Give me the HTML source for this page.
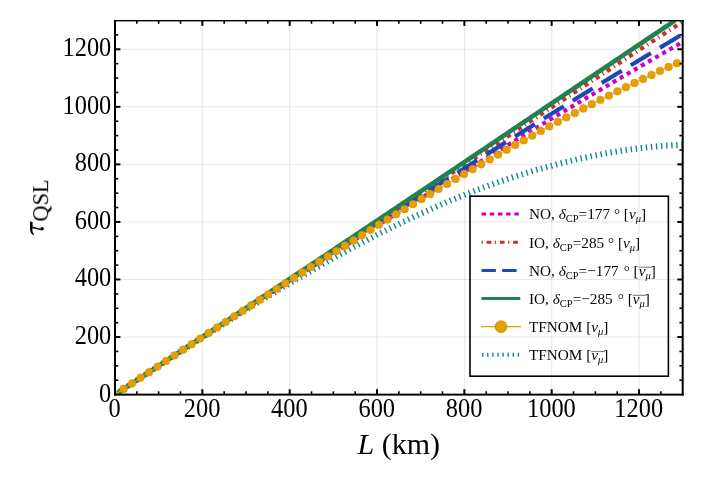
<!DOCTYPE html>
<html><head><meta charset="utf-8"><title>plot</title>
<style>
html,body{margin:0;padding:0;background:#fff;}
svg{display:block;}
text{font-family:"Liberation Serif",serif;fill:#000;}
#txt{opacity:0.999;}
</style></head><body>
<svg width="704" height="482" viewBox="0 0 704 482">
<rect x="0" y="0" width="704" height="482" fill="#fff"/>
<defs><clipPath id="cp"><rect x="115.00" y="20.00" width="567.70" height="374.60"/></clipPath></defs>

<g stroke="#000" stroke-opacity="0.095" stroke-width="1" fill="none"><line x1="202.34" y1="394.60" x2="202.34" y2="20.50"/><line x1="115.00" y1="337.05" x2="682.70" y2="337.05"/><line x1="289.68" y1="394.60" x2="289.68" y2="20.50"/><line x1="115.00" y1="279.49" x2="682.70" y2="279.49"/><line x1="377.02" y1="394.60" x2="377.02" y2="20.50"/><line x1="115.00" y1="221.94" x2="682.70" y2="221.94"/><line x1="464.35" y1="394.60" x2="464.35" y2="20.50"/><line x1="115.00" y1="164.38" x2="682.70" y2="164.38"/><line x1="551.69" y1="394.60" x2="551.69" y2="20.50"/><line x1="115.00" y1="106.83" x2="682.70" y2="106.83"/><line x1="639.03" y1="394.60" x2="639.03" y2="20.50"/><line x1="115.00" y1="49.28" x2="682.70" y2="49.28"/></g>
<g clip-path="url(#cp)" fill="none">
<path d="M115.00,394.60 L117.18,393.16 L119.37,391.72 L121.55,390.28 L123.73,388.85 L125.92,387.41 L128.10,385.97 L130.28,384.54 L132.47,383.10 L134.65,381.66 L136.83,380.23 L139.02,378.79 L141.20,377.36 L143.38,375.93 L145.57,374.49 L147.75,373.06 L149.94,371.63 L152.12,370.19 L154.30,368.76 L156.49,367.33 L158.67,365.90 L160.85,364.47 L163.04,363.04 L165.22,361.61 L167.40,360.18 L169.59,358.75 L171.77,357.32 L173.95,355.90 L176.14,354.47 L178.32,353.04 L180.50,351.62 L182.69,350.19 L184.87,348.77 L187.05,347.34 L189.24,345.92 L191.42,344.50 L193.60,343.07 L195.79,341.65 L197.97,340.23 L200.16,338.81 L202.34,337.39 L204.52,335.97 L206.71,334.55 L208.89,333.13 L211.07,331.71 L213.26,330.29 L215.44,328.88 L217.62,327.46 L219.81,326.04 L221.99,324.63 L224.17,323.21 L226.36,321.80 L228.54,320.39 L230.72,318.97 L232.91,317.56 L235.09,316.15 L237.27,314.74 L239.46,313.33 L241.64,311.92 L243.82,310.51 L246.01,309.10 L248.19,307.69 L250.37,306.28 L252.56,304.88 L254.74,303.47 L256.93,302.07 L259.11,300.66 L261.29,299.26 L263.48,297.85 L265.66,296.45 L267.84,295.04 L270.03,293.64 L272.21,292.24 L274.39,290.84 L276.58,289.44 L278.76,288.04 L280.94,286.64 L283.13,285.24 L285.31,283.84 L287.49,282.45 L289.68,281.05 L291.86,279.65 L294.04,278.26 L296.23,276.87 L298.41,275.48 L300.59,274.08 L302.78,272.69 L304.96,271.30 L307.14,269.91 L309.33,268.52 L311.51,267.13 L313.70,265.75 L315.88,264.36 L318.06,262.97 L320.25,261.59 L322.43,260.20 L324.61,258.82 L326.80,257.43 L328.98,256.05 L331.16,254.67 L333.35,253.28 L335.53,251.90 L337.71,250.52 L339.90,249.14 L342.08,247.76 L344.26,246.39 L346.45,245.01 L348.63,243.63 L350.81,242.25 L353.00,240.88 L355.18,239.50 L357.36,238.13 L359.55,236.75 L361.73,235.38 L363.91,234.01 L366.10,232.64 L368.28,231.27 L370.47,229.90 L372.65,228.53 L374.83,227.16 L377.02,225.79 L379.20,224.42 L381.38,223.05 L383.57,221.69 L385.75,220.32 L387.93,218.96 L390.12,217.59 L392.30,216.23 L394.48,214.86 L396.67,213.50 L398.85,212.14 L401.03,210.78 L403.22,209.42 L405.40,208.06 L407.58,206.70 L409.77,205.34 L411.95,203.98 L414.13,202.62 L416.32,201.27 L418.50,199.91 L420.68,198.56 L422.87,197.20 L425.05,195.85 L427.24,194.50 L429.42,193.14 L431.60,191.79 L433.79,190.44 L435.97,189.09 L438.15,187.74 L440.34,186.39 L442.52,185.05 L444.70,183.70 L446.89,182.35 L449.07,181.01 L451.25,179.66 L453.44,178.32 L455.62,176.97 L457.80,175.63 L459.99,174.29 L462.17,172.94 L464.35,171.60 L466.54,170.26 L468.72,168.92 L470.90,167.59 L473.09,166.25 L475.27,164.91 L477.45,163.58 L479.64,162.24 L481.82,160.90 L484.00,159.57 L486.19,158.24 L488.37,156.90 L490.56,155.57 L492.74,154.24 L494.92,152.91 L497.11,151.58 L499.29,150.25 L501.47,148.92 L503.66,147.60 L505.84,146.27 L508.02,144.94 L510.21,143.62 L512.39,142.29 L514.57,140.97 L516.76,139.65 L518.94,138.32 L521.12,137.00 L523.31,135.68 L525.49,134.36 L527.67,133.04 L529.86,131.72 L532.04,130.40 L534.22,129.09 L536.41,127.77 L538.59,126.45 L540.78,125.14 L542.96,123.82 L545.14,122.51 L547.33,121.20 L549.51,119.88 L551.69,118.57 L553.88,117.27 L556.06,115.97 L558.24,114.67 L560.43,113.37 L562.61,112.07 L564.79,110.77 L566.98,109.47 L569.16,108.18 L571.34,106.88 L573.53,105.59 L575.71,104.29 L577.89,103.00 L580.08,101.71 L582.26,100.41 L584.44,99.12 L586.63,97.83 L588.81,96.54 L590.99,95.26 L593.18,93.97 L595.36,92.68 L597.55,91.40 L599.73,90.11 L601.91,88.83 L604.10,87.54 L606.28,86.26 L608.46,84.98 L610.65,83.70 L612.83,82.42 L615.01,81.14 L617.20,79.86 L619.38,78.58 L621.56,77.31 L623.75,76.03 L625.93,74.76 L628.11,73.48 L630.30,72.21 L632.48,70.94 L634.66,69.66 L636.85,68.39 L639.03,67.12 L641.21,65.86 L643.40,64.60 L645.58,63.33 L647.76,62.07 L649.95,60.81 L652.13,59.55 L654.32,58.29 L656.50,57.04 L658.68,55.78 L660.87,54.52 L663.05,53.27 L665.23,52.01 L667.42,50.76 L669.60,49.51 L671.78,48.26 L673.97,47.00 L676.15,45.75 L678.33,44.51 L680.52,43.26 L682.70,42.01" stroke="#cc00cc" stroke-width="4.2" stroke-dasharray="4.1 4.07" stroke-dashoffset="0.6"/>
<path d="M115.00,394.60 L117.18,393.16 L119.37,391.72 L121.55,390.29 L123.73,388.85 L125.92,387.41 L128.10,385.98 L130.28,384.54 L132.47,383.11 L134.65,381.67 L136.83,380.23 L139.02,378.80 L141.20,377.36 L143.38,375.93 L145.57,374.49 L147.75,373.06 L149.94,371.62 L152.12,370.19 L154.30,368.75 L156.49,367.32 L158.67,365.88 L160.85,364.45 L163.04,363.01 L165.22,361.58 L167.40,360.14 L169.59,358.71 L171.77,357.27 L173.95,355.84 L176.14,354.40 L178.32,352.97 L180.50,351.53 L182.69,350.10 L184.87,348.66 L187.05,347.23 L189.24,345.79 L191.42,344.36 L193.60,342.92 L195.79,341.49 L197.97,340.05 L200.16,338.62 L202.34,337.18 L204.52,335.74 L206.71,334.31 L208.89,332.88 L211.07,331.44 L213.26,330.01 L215.44,328.57 L217.62,327.14 L219.81,325.70 L221.99,324.27 L224.17,322.83 L226.36,321.40 L228.54,319.96 L230.72,318.53 L232.91,317.09 L235.09,315.66 L237.27,314.22 L239.46,312.79 L241.64,311.35 L243.82,309.92 L246.01,308.48 L248.19,307.04 L250.37,305.61 L252.56,304.17 L254.74,302.74 L256.93,301.30 L259.11,299.87 L261.29,298.43 L263.48,297.00 L265.66,295.56 L267.84,294.12 L270.03,292.69 L272.21,291.25 L274.39,289.82 L276.58,288.38 L278.76,286.95 L280.94,285.51 L283.13,284.07 L285.31,282.64 L287.49,281.20 L289.68,279.76 L291.86,278.33 L294.04,276.90 L296.23,275.46 L298.41,274.03 L300.59,272.59 L302.78,271.16 L304.96,269.72 L307.14,268.29 L309.33,266.85 L311.51,265.42 L313.70,263.98 L315.88,262.55 L318.06,261.11 L320.25,259.68 L322.43,258.24 L324.61,256.81 L326.80,255.38 L328.98,253.94 L331.16,252.51 L333.35,251.07 L335.53,249.64 L337.71,248.20 L339.90,246.77 L342.08,245.33 L344.26,243.90 L346.45,242.46 L348.63,241.02 L350.81,239.59 L353.00,238.15 L355.18,236.72 L357.36,235.28 L359.55,233.85 L361.73,232.41 L363.91,230.98 L366.10,229.54 L368.28,228.11 L370.47,226.67 L372.65,225.24 L374.83,223.80 L377.02,222.37 L379.20,220.93 L381.38,219.49 L383.57,218.06 L385.75,216.62 L387.93,215.18 L390.12,213.75 L392.30,212.31 L394.48,210.88 L396.67,209.44 L398.85,208.00 L401.03,206.57 L403.22,205.13 L405.40,203.69 L407.58,202.26 L409.77,200.82 L411.95,199.38 L414.13,197.95 L416.32,196.51 L418.50,195.07 L420.68,193.64 L422.87,192.20 L425.05,190.76 L427.24,189.33 L429.42,187.89 L431.60,186.45 L433.79,185.01 L435.97,183.58 L438.15,182.14 L440.34,180.70 L442.52,179.26 L444.70,177.83 L446.89,176.39 L449.07,174.95 L451.25,173.51 L453.44,172.08 L455.62,170.64 L457.80,169.20 L459.99,167.76 L462.17,166.33 L464.35,164.89 L466.54,163.45 L468.72,162.01 L470.90,160.57 L473.09,159.14 L475.27,157.70 L477.45,156.26 L479.64,154.82 L481.82,153.39 L484.00,151.95 L486.19,150.51 L488.37,149.07 L490.56,147.63 L492.74,146.20 L494.92,144.76 L497.11,143.32 L499.29,141.88 L501.47,140.44 L503.66,139.01 L505.84,137.57 L508.02,136.13 L510.21,134.69 L512.39,133.25 L514.57,131.81 L516.76,130.37 L518.94,128.94 L521.12,127.50 L523.31,126.06 L525.49,124.62 L527.67,123.18 L529.86,121.74 L532.04,120.30 L534.22,118.86 L536.41,117.42 L538.59,115.99 L540.78,114.55 L542.96,113.11 L545.14,111.67 L547.33,110.23 L549.51,108.79 L551.69,107.35 L553.88,105.92 L556.06,104.49 L558.24,103.06 L560.43,101.63 L562.61,100.19 L564.79,98.76 L566.98,97.33 L569.16,95.90 L571.34,94.47 L573.53,93.04 L575.71,91.61 L577.89,90.18 L580.08,88.75 L582.26,87.32 L584.44,85.89 L586.63,84.46 L588.81,83.03 L590.99,81.60 L593.18,80.17 L595.36,78.74 L597.55,77.31 L599.73,75.87 L601.91,74.44 L604.10,73.01 L606.28,71.58 L608.46,70.15 L610.65,68.72 L612.83,67.29 L615.01,65.86 L617.20,64.43 L619.38,63.00 L621.56,61.57 L623.75,60.14 L625.93,58.71 L628.11,57.28 L630.30,55.85 L632.48,54.42 L634.66,52.99 L636.85,51.56 L639.03,50.13 L641.21,48.71 L643.40,47.28 L645.58,45.86 L647.76,44.43 L649.95,43.01 L652.13,41.58 L654.32,40.16 L656.50,38.74 L658.68,37.31 L660.87,35.89 L663.05,34.46 L665.23,33.04 L667.42,31.62 L669.60,30.19 L671.78,28.77 L673.97,27.34 L676.15,25.92 L678.33,24.50 L680.52,23.07 L682.70,21.65" stroke="#cc2e30" stroke-width="4.2" stroke-dasharray="4.2 3.95 1.2 3.95" stroke-dashoffset="-3.5"/>
<path d="M115.00,394.60 L117.18,393.16 L119.37,391.72 L121.55,390.28 L123.73,388.84 L125.92,387.41 L128.10,385.97 L130.28,384.53 L132.47,383.09 L134.65,381.65 L136.83,380.21 L139.02,378.78 L141.20,377.34 L143.38,375.90 L145.57,374.46 L147.75,373.02 L149.94,371.59 L152.12,370.15 L154.30,368.71 L156.49,367.28 L158.67,365.84 L160.85,364.40 L163.04,362.97 L165.22,361.53 L167.40,360.10 L169.59,358.66 L171.77,357.23 L173.95,355.79 L176.14,354.36 L178.32,352.92 L180.50,351.49 L182.69,350.05 L184.87,348.62 L187.05,347.19 L189.24,345.75 L191.42,344.32 L193.60,342.89 L195.79,341.45 L197.97,340.02 L200.16,338.59 L202.34,337.16 L204.52,335.73 L206.71,334.30 L208.89,332.86 L211.07,331.43 L213.26,330.01 L215.44,328.58 L217.62,327.15 L219.81,325.72 L221.99,324.29 L224.17,322.86 L226.36,321.43 L228.54,320.01 L230.72,318.58 L232.91,317.15 L235.09,315.73 L237.27,314.30 L239.46,312.87 L241.64,311.45 L243.82,310.02 L246.01,308.60 L248.19,307.17 L250.37,305.75 L252.56,304.33 L254.74,302.90 L256.93,301.48 L259.11,300.06 L261.29,298.63 L263.48,297.21 L265.66,295.79 L267.84,294.37 L270.03,292.95 L272.21,291.53 L274.39,290.11 L276.58,288.69 L278.76,287.27 L280.94,285.85 L283.13,284.43 L285.31,283.01 L287.49,281.59 L289.68,280.18 L291.86,278.76 L294.04,277.34 L296.23,275.93 L298.41,274.52 L300.59,273.10 L302.78,271.69 L304.96,270.28 L307.14,268.86 L309.33,267.45 L311.51,266.04 L313.70,264.63 L315.88,263.22 L318.06,261.81 L320.25,260.40 L322.43,258.99 L324.61,257.58 L326.80,256.17 L328.98,254.76 L331.16,253.36 L333.35,251.95 L335.53,250.54 L337.71,249.14 L339.90,247.73 L342.08,246.32 L344.26,244.92 L346.45,243.51 L348.63,242.11 L350.81,240.71 L353.00,239.30 L355.18,237.90 L357.36,236.50 L359.55,235.10 L361.73,233.70 L363.91,232.30 L366.10,230.90 L368.28,229.50 L370.47,228.10 L372.65,226.70 L374.83,225.30 L377.02,223.90 L379.20,222.50 L381.38,221.11 L383.57,219.71 L385.75,218.31 L387.93,216.92 L390.12,215.52 L392.30,214.13 L394.48,212.73 L396.67,211.34 L398.85,209.95 L401.03,208.55 L403.22,207.16 L405.40,205.77 L407.58,204.38 L409.77,202.98 L411.95,201.59 L414.13,200.20 L416.32,198.81 L418.50,197.43 L420.68,196.04 L422.87,194.65 L425.05,193.26 L427.24,191.87 L429.42,190.49 L431.60,189.10 L433.79,187.71 L435.97,186.33 L438.15,184.94 L440.34,183.56 L442.52,182.18 L444.70,180.79 L446.89,179.41 L449.07,178.03 L451.25,176.65 L453.44,175.27 L455.62,173.89 L457.80,172.51 L459.99,171.13 L462.17,169.75 L464.35,168.37 L466.54,166.99 L468.72,165.61 L470.90,164.24 L473.09,162.86 L475.27,161.49 L477.45,160.11 L479.64,158.74 L481.82,157.36 L484.00,155.99 L486.19,154.62 L488.37,153.24 L490.56,151.87 L492.74,150.50 L494.92,149.13 L497.11,147.76 L499.29,146.39 L501.47,145.02 L503.66,143.65 L505.84,142.28 L508.02,140.92 L510.21,139.55 L512.39,138.18 L514.57,136.82 L516.76,135.45 L518.94,134.09 L521.12,132.72 L523.31,131.36 L525.49,130.00 L527.67,128.63 L529.86,127.27 L532.04,125.91 L534.22,124.55 L536.41,123.19 L538.59,121.83 L540.78,120.47 L542.96,119.11 L545.14,117.75 L547.33,116.39 L549.51,115.04 L551.69,113.68 L553.88,112.33 L556.06,110.99 L558.24,109.64 L560.43,108.29 L562.61,106.95 L564.79,105.60 L566.98,104.26 L569.16,102.92 L571.34,101.58 L573.53,100.23 L575.71,98.89 L577.89,97.55 L580.08,96.21 L582.26,94.87 L584.44,93.54 L586.63,92.20 L588.81,90.86 L590.99,89.52 L593.18,88.19 L595.36,86.85 L597.55,85.52 L599.73,84.19 L601.91,82.85 L604.10,81.52 L606.28,80.19 L608.46,78.86 L610.65,77.53 L612.83,76.20 L615.01,74.87 L617.20,73.54 L619.38,72.21 L621.56,70.88 L623.75,69.56 L625.93,68.23 L628.11,66.91 L630.30,65.58 L632.48,64.26 L634.66,62.93 L636.85,61.61 L639.03,60.29 L641.21,58.97 L643.40,57.66 L645.58,56.34 L647.76,55.03 L649.95,53.72 L652.13,52.40 L654.32,51.09 L656.50,49.78 L658.68,48.47 L660.87,47.16 L663.05,45.85 L665.23,44.55 L667.42,43.24 L669.60,41.93 L671.78,40.62 L673.97,39.32 L676.15,38.02 L678.33,36.71 L680.52,35.41 L682.70,34.11" stroke="#1e48b8" stroke-width="4.2" stroke-dasharray="23.5 10.5" stroke-dashoffset="0"/>
<path d="M115.00,394.60 L117.15,393.18 L119.31,391.77 L121.46,390.35 L123.62,388.94 L125.77,387.52 L127.92,386.10 L130.08,384.69 L132.23,383.27 L134.39,381.85 L136.54,380.44 L138.69,379.02 L140.85,377.60 L143.00,376.18 L145.16,374.76 L147.31,373.35 L149.47,371.93 L151.62,370.51 L153.77,369.09 L155.93,367.67 L158.08,366.25 L160.24,364.83 L162.39,363.40 L164.54,361.98 L166.70,360.55 L168.85,359.13 L171.01,357.70 L173.16,356.28 L175.31,354.85 L177.47,353.43 L179.62,352.00 L181.78,350.57 L183.93,349.15 L186.08,347.72 L188.24,346.29 L190.39,344.87 L192.55,343.44 L194.70,342.01 L196.85,340.58 L199.01,339.16 L201.16,337.73 L203.32,336.30 L205.47,334.87 L207.62,333.44 L209.78,332.01 L211.93,330.59 L214.09,329.16 L216.24,327.73 L218.40,326.30 L220.55,324.87 L222.70,323.44 L224.86,322.01 L227.01,320.58 L229.17,319.15 L231.32,317.72 L233.47,316.29 L235.63,314.86 L237.78,313.43 L239.94,311.99 L242.09,310.56 L244.24,309.13 L246.40,307.70 L248.55,306.27 L250.71,304.83 L252.86,303.40 L255.01,301.97 L257.17,300.54 L259.32,299.10 L261.48,297.67 L263.63,296.24 L265.78,294.80 L267.94,293.37 L270.09,291.93 L272.25,290.50 L274.40,289.07 L276.56,287.63 L278.71,286.20 L280.86,284.76 L283.02,283.33 L285.17,281.89 L287.33,280.46 L289.48,279.02 L291.63,277.59 L293.79,276.15 L295.94,274.72 L298.10,273.28 L300.25,271.85 L302.40,270.41 L304.56,268.98 L306.71,267.54 L308.87,266.11 L311.02,264.67 L313.17,263.23 L315.33,261.80 L317.48,260.36 L319.64,258.93 L321.79,257.49 L323.94,256.05 L326.10,254.62 L328.25,253.18 L330.41,251.74 L332.56,250.30 L334.72,248.87 L336.87,247.43 L339.02,245.99 L341.18,244.55 L343.33,243.12 L345.49,241.68 L347.64,240.24 L349.79,238.80 L351.95,237.36 L354.10,235.92 L356.26,234.48 L358.41,233.05 L360.56,231.61 L362.72,230.17 L364.87,228.73 L367.03,227.29 L369.18,225.85 L371.33,224.41 L373.49,222.97 L375.64,221.53 L377.80,220.09 L379.95,218.65 L382.10,217.20 L384.26,215.76 L386.41,214.32 L388.57,212.88 L390.72,211.44 L392.87,210.00 L395.03,208.55 L397.18,207.11 L399.34,205.67 L401.49,204.23 L403.65,202.78 L405.80,201.34 L407.95,199.90 L410.11,198.45 L412.26,197.01 L414.42,195.57 L416.57,194.12 L418.72,192.68 L420.88,191.23 L423.03,189.79 L425.19,188.35 L427.34,186.90 L429.49,185.46 L431.65,184.01 L433.80,182.57 L435.96,181.12 L438.11,179.68 L440.26,178.23 L442.42,176.78 L444.57,175.34 L446.73,173.89 L448.88,172.45 L451.03,171.00 L453.19,169.55 L455.34,168.11 L457.50,166.66 L459.65,165.21 L461.81,163.77 L463.96,162.32 L466.11,160.87 L468.27,159.42 L470.42,157.98 L472.58,156.53 L474.73,155.08 L476.88,153.63 L479.04,152.19 L481.19,150.74 L483.35,149.29 L485.50,147.84 L487.65,146.39 L489.81,144.95 L491.96,143.50 L494.12,142.05 L496.27,140.60 L498.42,139.15 L500.58,137.70 L502.73,136.25 L504.89,134.80 L507.04,133.35 L509.19,131.90 L511.35,130.45 L513.50,129.00 L515.66,127.55 L517.81,126.10 L519.96,124.65 L522.12,123.20 L524.27,121.75 L526.43,120.30 L528.58,118.84 L530.74,117.39 L532.89,115.94 L535.04,114.49 L537.20,113.04 L539.35,111.58 L541.51,110.13 L543.66,108.68 L545.81,107.23 L547.97,105.77 L550.12,104.32 L552.28,102.87 L554.43,101.43 L556.58,99.98 L558.74,98.54 L560.89,97.09 L563.05,95.65 L565.20,94.20 L567.35,92.76 L569.51,91.31 L571.66,89.87 L573.82,88.42 L575.97,86.98 L578.12,85.53 L580.28,84.09 L582.43,82.64 L584.59,81.19 L586.74,79.75 L588.90,78.30 L591.05,76.86 L593.20,75.41 L595.36,73.96 L597.51,72.52 L599.67,71.07 L601.82,69.63 L603.97,68.18 L606.13,66.73 L608.28,65.29 L610.44,63.84 L612.59,62.39 L614.74,60.95 L616.90,59.50 L619.05,58.05 L621.21,56.61 L623.36,55.16 L625.51,53.71 L627.67,52.27 L629.82,50.82 L631.98,49.37 L634.13,47.92 L636.28,46.48 L638.44,45.03 L640.59,43.59 L642.75,42.14 L644.90,40.70 L647.05,39.26 L649.21,37.82 L651.36,36.37 L653.52,34.93 L655.67,33.49 L657.83,32.05 L659.98,30.60 L662.13,29.16 L664.29,27.72 L666.44,26.28 L668.60,24.83 L670.75,23.39 L672.90,21.95 L675.06,20.51" stroke="#1f8250" stroke-width="4.6"/>
<path d="M115.00,394.60 L117.18,393.16 L119.37,391.72 L121.55,390.28 L123.73,388.84 L125.92,387.40 L128.10,385.97 L130.28,384.53 L132.47,383.09 L134.65,381.65 L136.83,380.21 L139.02,378.77 L141.20,377.34 L143.38,375.90 L145.57,374.46 L147.75,373.03 L149.94,371.59 L152.12,370.16 L154.30,368.72 L156.49,367.29 L158.67,365.86 L160.85,364.43 L163.04,363.00 L165.22,361.57 L167.40,360.14 L169.59,358.71 L171.77,357.29 L173.95,355.86 L176.14,354.44 L178.32,353.02 L180.50,351.60 L182.69,350.18 L184.87,348.76 L187.05,347.34 L189.24,345.93 L191.42,344.51 L193.60,343.10 L195.79,341.69 L197.97,340.28 L200.16,338.88 L202.34,337.47 L204.52,336.07 L206.71,334.67 L208.89,333.27 L211.07,331.87 L213.26,330.48 L215.44,329.08 L217.62,327.69 L219.81,326.30 L221.99,324.92 L224.17,323.53 L226.36,322.15 L228.54,320.77 L230.72,319.39 L232.91,318.02 L235.09,316.65 L237.27,315.28 L239.46,313.91 L241.64,312.55 L243.82,311.19 L246.01,309.83 L248.19,308.47 L250.37,307.12 L252.56,305.77 L254.74,304.42 L256.93,303.07 L259.11,301.73 L261.29,300.39 L263.48,299.06 L265.66,297.72 L267.84,296.39 L270.03,295.07 L272.21,293.74 L274.39,292.42 L276.58,291.11 L278.76,289.79 L280.94,288.48 L283.13,287.18 L285.31,285.87 L287.49,284.57 L289.68,283.28 L291.86,281.99 L294.04,280.70 L296.23,279.42 L298.41,278.14 L300.59,276.86 L302.78,275.59 L304.96,274.32 L307.14,273.06 L309.33,271.80 L311.51,270.54 L313.70,269.29 L315.88,268.04 L318.06,266.79 L320.25,265.55 L322.43,264.32 L324.61,263.09 L326.80,261.86 L328.98,260.64 L331.16,259.42 L333.35,258.20 L335.53,256.99 L337.71,255.79 L339.90,254.59 L342.08,253.39 L344.26,252.20 L346.45,251.01 L348.63,249.83 L350.81,248.66 L353.00,247.48 L355.18,246.32 L357.36,245.15 L359.55,243.99 L361.73,242.84 L363.91,241.69 L366.10,240.55 L368.28,239.41 L370.47,238.28 L372.65,237.15 L374.83,236.03 L377.02,234.91 L379.20,233.80 L381.38,232.69 L383.57,231.59 L385.75,230.49 L387.93,229.40 L390.12,228.32 L392.30,227.24 L394.48,226.16 L396.67,225.09 L398.85,224.03 L401.03,222.97 L403.22,221.92 L405.40,220.87 L407.58,219.83 L409.77,218.79 L411.95,217.77 L414.13,216.74 L416.32,215.72 L418.50,214.71 L420.68,213.71 L422.87,212.71 L425.05,211.72 L427.24,210.73 L429.42,209.75 L431.60,208.77 L433.79,207.80 L435.97,206.84 L438.15,205.88 L440.34,204.93 L442.52,203.99 L444.70,203.05 L446.89,202.12 L449.07,201.20 L451.25,200.28 L453.44,199.37 L455.62,198.47 L457.80,197.57 L459.99,196.68 L462.17,195.79 L464.35,194.92 L466.54,194.05 L468.72,193.18 L470.90,192.32 L473.09,191.47 L475.27,190.63 L477.45,189.79 L479.64,188.96 L481.82,188.14 L484.00,187.33 L486.19,186.52 L488.37,185.72 L490.56,184.92 L492.74,184.14 L494.92,183.36 L497.11,182.58 L499.29,181.82 L501.47,181.06 L503.66,180.31 L505.84,179.57 L508.02,178.83 L510.21,178.11 L512.39,177.39 L514.57,176.67 L516.76,175.97 L518.94,175.27 L521.12,174.58 L523.31,173.90 L525.49,173.23 L527.67,172.56 L529.86,171.90 L532.04,171.25 L534.22,170.61 L536.41,169.98 L538.59,169.35 L540.78,168.73 L542.96,168.12 L545.14,167.52 L547.33,166.93 L549.51,166.34 L551.69,165.77 L553.88,165.17 L556.06,164.59 L558.24,164.01 L560.43,163.44 L562.61,162.88 L564.79,162.32 L566.98,161.77 L569.16,161.23 L571.34,160.70 L573.53,160.18 L575.71,159.66 L577.89,159.15 L580.08,158.65 L582.26,158.16 L584.44,157.68 L586.63,157.20 L588.81,156.73 L590.99,156.27 L593.18,155.82 L595.36,155.38 L597.55,154.94 L599.73,154.52 L601.91,154.10 L604.10,153.69 L606.28,153.29 L608.46,152.89 L610.65,152.51 L612.83,152.13 L615.01,151.76 L617.20,151.40 L619.38,151.05 L621.56,150.70 L623.75,150.37 L625.93,150.04 L628.11,149.73 L630.30,149.42 L632.48,149.12 L634.66,148.83 L636.85,148.54 L639.03,148.27 L641.21,148.01 L643.40,147.76 L645.58,147.51 L647.76,147.28 L649.95,147.05 L652.13,146.84 L654.32,146.63 L656.50,146.43 L658.68,146.25 L660.87,146.07 L663.05,145.89 L665.23,145.73 L667.42,145.58 L669.60,145.44 L671.78,145.30 L673.97,145.18 L676.15,145.06 L678.33,144.96 L680.52,144.86 L682.70,144.77" stroke="#0b8a8a" stroke-width="6" stroke-dasharray="1.4 3.693" stroke-dashoffset="-0.38825285350855854"/>
<path d="M115.00,394.60 L123.52,388.99 L132.03,383.37 L140.55,377.76 L149.06,372.15 L157.58,366.53 L166.09,360.93 L174.61,355.32 L183.12,349.73 L191.64,344.13 L200.16,338.55 L208.67,332.98 L217.19,327.41 L225.70,321.86 L234.22,316.32 L242.73,310.79 L251.25,305.27 L259.76,299.77 L268.28,294.28 L276.79,288.81 L285.31,283.35 L293.83,277.91 L302.34,272.50 L310.86,267.10 L319.37,261.72 L327.89,256.37 L336.40,251.03 L344.92,245.72 L353.43,240.43 L361.95,235.16 L370.47,229.92 L378.98,224.70 L387.50,219.51 L396.01,214.34 L404.53,209.20 L413.04,204.08 L421.56,199.00 L430.07,193.94 L438.59,188.91 L447.10,183.91 L455.62,178.94 L464.14,174.01 L472.65,169.09 L481.17,164.21 L489.68,159.36 L498.20,154.54 L506.71,149.75 L515.23,145.00 L523.74,140.28 L532.26,135.60 L540.78,130.95 L549.29,126.34 L557.81,121.81 L566.32,117.33 L574.84,112.89 L583.35,108.49 L591.87,104.14 L600.38,99.82 L608.90,95.56 L617.41,91.33 L625.93,87.15 L634.45,83.01 L642.96,78.93 L651.48,74.91 L659.99,70.94 L668.51,67.01 L677.02,63.13" stroke="#e69f00" stroke-width="1"/>
<g fill="#e69f00" stroke="#d39100" stroke-width="0.4">
<circle cx="115.00" cy="394.60" r="3.9"/>
<circle cx="123.52" cy="388.99" r="3.9"/>
<circle cx="132.03" cy="383.37" r="3.9"/>
<circle cx="140.55" cy="377.76" r="3.9"/>
<circle cx="149.06" cy="372.15" r="3.9"/>
<circle cx="157.58" cy="366.53" r="3.9"/>
<circle cx="166.09" cy="360.93" r="3.9"/>
<circle cx="174.61" cy="355.32" r="3.9"/>
<circle cx="183.12" cy="349.73" r="3.9"/>
<circle cx="191.64" cy="344.13" r="3.9"/>
<circle cx="200.16" cy="338.55" r="3.9"/>
<circle cx="208.67" cy="332.98" r="3.9"/>
<circle cx="217.19" cy="327.41" r="3.9"/>
<circle cx="225.70" cy="321.86" r="3.9"/>
<circle cx="234.22" cy="316.32" r="3.9"/>
<circle cx="242.73" cy="310.79" r="3.9"/>
<circle cx="251.25" cy="305.27" r="3.9"/>
<circle cx="259.76" cy="299.77" r="3.9"/>
<circle cx="268.28" cy="294.28" r="3.9"/>
<circle cx="276.79" cy="288.81" r="3.9"/>
<circle cx="285.31" cy="283.35" r="3.9"/>
<circle cx="293.83" cy="277.91" r="3.9"/>
<circle cx="302.34" cy="272.50" r="3.9"/>
<circle cx="310.86" cy="267.10" r="3.9"/>
<circle cx="319.37" cy="261.72" r="3.9"/>
<circle cx="327.89" cy="256.37" r="3.9"/>
<circle cx="336.40" cy="251.03" r="3.9"/>
<circle cx="344.92" cy="245.72" r="3.9"/>
<circle cx="353.43" cy="240.43" r="3.9"/>
<circle cx="361.95" cy="235.16" r="3.9"/>
<circle cx="370.47" cy="229.92" r="3.9"/>
<circle cx="378.98" cy="224.70" r="3.9"/>
<circle cx="387.50" cy="219.51" r="3.9"/>
<circle cx="396.01" cy="214.34" r="3.9"/>
<circle cx="404.53" cy="209.20" r="3.9"/>
<circle cx="413.04" cy="204.08" r="3.9"/>
<circle cx="421.56" cy="199.00" r="3.9"/>
<circle cx="430.07" cy="193.94" r="3.9"/>
<circle cx="438.59" cy="188.91" r="3.9"/>
<circle cx="447.10" cy="183.91" r="3.9"/>
<circle cx="455.62" cy="178.94" r="3.9"/>
<circle cx="464.14" cy="174.01" r="3.9"/>
<circle cx="472.65" cy="169.09" r="3.9"/>
<circle cx="481.17" cy="164.21" r="3.9"/>
<circle cx="489.68" cy="159.36" r="3.9"/>
<circle cx="498.20" cy="154.54" r="3.9"/>
<circle cx="506.71" cy="149.75" r="3.9"/>
<circle cx="515.23" cy="145.00" r="3.9"/>
<circle cx="523.74" cy="140.28" r="3.9"/>
<circle cx="532.26" cy="135.60" r="3.9"/>
<circle cx="540.78" cy="130.95" r="3.9"/>
<circle cx="549.29" cy="126.34" r="3.9"/>
<circle cx="557.81" cy="121.81" r="3.9"/>
<circle cx="566.32" cy="117.33" r="3.9"/>
<circle cx="574.84" cy="112.89" r="3.9"/>
<circle cx="583.35" cy="108.49" r="3.9"/>
<circle cx="591.87" cy="104.14" r="3.9"/>
<circle cx="600.38" cy="99.82" r="3.9"/>
<circle cx="608.90" cy="95.56" r="3.9"/>
<circle cx="617.41" cy="91.33" r="3.9"/>
<circle cx="625.93" cy="87.15" r="3.9"/>
<circle cx="634.45" cy="83.01" r="3.9"/>
<circle cx="642.96" cy="78.93" r="3.9"/>
<circle cx="651.48" cy="74.91" r="3.9"/>
<circle cx="659.99" cy="70.94" r="3.9"/>
<circle cx="668.51" cy="67.01" r="3.9"/>
<circle cx="677.02" cy="63.13" r="3.9"/>
</g>
</g>
<g stroke="#000" fill="none"><line x1="136.83" y1="394.60" x2="136.83" y2="391.30" stroke-width="1.6"/><line x1="136.83" y1="20.50" x2="136.83" y2="23.80" stroke-width="1.6"/><line x1="115.00" y1="380.21" x2="118.30" y2="380.21" stroke-width="1.6"/><line x1="682.70" y1="380.21" x2="679.40" y2="380.21" stroke-width="1.6"/><line x1="158.67" y1="394.60" x2="158.67" y2="391.30" stroke-width="1.6"/><line x1="158.67" y1="20.50" x2="158.67" y2="23.80" stroke-width="1.6"/><line x1="115.00" y1="365.82" x2="118.30" y2="365.82" stroke-width="1.6"/><line x1="682.70" y1="365.82" x2="679.40" y2="365.82" stroke-width="1.6"/><line x1="180.50" y1="394.60" x2="180.50" y2="391.30" stroke-width="1.6"/><line x1="180.50" y1="20.50" x2="180.50" y2="23.80" stroke-width="1.6"/><line x1="115.00" y1="351.43" x2="118.30" y2="351.43" stroke-width="1.6"/><line x1="682.70" y1="351.43" x2="679.40" y2="351.43" stroke-width="1.6"/><line x1="202.34" y1="394.60" x2="202.34" y2="389.20" stroke-width="2.0"/><line x1="202.34" y1="20.50" x2="202.34" y2="25.90" stroke-width="2.0"/><line x1="115.00" y1="337.05" x2="120.40" y2="337.05" stroke-width="2.0"/><line x1="682.70" y1="337.05" x2="677.30" y2="337.05" stroke-width="2.0"/><line x1="224.17" y1="394.60" x2="224.17" y2="391.30" stroke-width="1.6"/><line x1="224.17" y1="20.50" x2="224.17" y2="23.80" stroke-width="1.6"/><line x1="115.00" y1="322.66" x2="118.30" y2="322.66" stroke-width="1.6"/><line x1="682.70" y1="322.66" x2="679.40" y2="322.66" stroke-width="1.6"/><line x1="246.01" y1="394.60" x2="246.01" y2="391.30" stroke-width="1.6"/><line x1="246.01" y1="20.50" x2="246.01" y2="23.80" stroke-width="1.6"/><line x1="115.00" y1="308.27" x2="118.30" y2="308.27" stroke-width="1.6"/><line x1="682.70" y1="308.27" x2="679.40" y2="308.27" stroke-width="1.6"/><line x1="267.84" y1="394.60" x2="267.84" y2="391.30" stroke-width="1.6"/><line x1="267.84" y1="20.50" x2="267.84" y2="23.80" stroke-width="1.6"/><line x1="115.00" y1="293.88" x2="118.30" y2="293.88" stroke-width="1.6"/><line x1="682.70" y1="293.88" x2="679.40" y2="293.88" stroke-width="1.6"/><line x1="289.68" y1="394.60" x2="289.68" y2="389.20" stroke-width="2.0"/><line x1="289.68" y1="20.50" x2="289.68" y2="25.90" stroke-width="2.0"/><line x1="115.00" y1="279.49" x2="120.40" y2="279.49" stroke-width="2.0"/><line x1="682.70" y1="279.49" x2="677.30" y2="279.49" stroke-width="2.0"/><line x1="311.51" y1="394.60" x2="311.51" y2="391.30" stroke-width="1.6"/><line x1="311.51" y1="20.50" x2="311.51" y2="23.80" stroke-width="1.6"/><line x1="115.00" y1="265.10" x2="118.30" y2="265.10" stroke-width="1.6"/><line x1="682.70" y1="265.10" x2="679.40" y2="265.10" stroke-width="1.6"/><line x1="333.35" y1="394.60" x2="333.35" y2="391.30" stroke-width="1.6"/><line x1="333.35" y1="20.50" x2="333.35" y2="23.80" stroke-width="1.6"/><line x1="115.00" y1="250.72" x2="118.30" y2="250.72" stroke-width="1.6"/><line x1="682.70" y1="250.72" x2="679.40" y2="250.72" stroke-width="1.6"/><line x1="355.18" y1="394.60" x2="355.18" y2="391.30" stroke-width="1.6"/><line x1="355.18" y1="20.50" x2="355.18" y2="23.80" stroke-width="1.6"/><line x1="115.00" y1="236.33" x2="118.30" y2="236.33" stroke-width="1.6"/><line x1="682.70" y1="236.33" x2="679.40" y2="236.33" stroke-width="1.6"/><line x1="377.02" y1="394.60" x2="377.02" y2="389.20" stroke-width="2.0"/><line x1="377.02" y1="20.50" x2="377.02" y2="25.90" stroke-width="2.0"/><line x1="115.00" y1="221.94" x2="120.40" y2="221.94" stroke-width="2.0"/><line x1="682.70" y1="221.94" x2="677.30" y2="221.94" stroke-width="2.0"/><line x1="398.85" y1="394.60" x2="398.85" y2="391.30" stroke-width="1.6"/><line x1="398.85" y1="20.50" x2="398.85" y2="23.80" stroke-width="1.6"/><line x1="115.00" y1="207.55" x2="118.30" y2="207.55" stroke-width="1.6"/><line x1="682.70" y1="207.55" x2="679.40" y2="207.55" stroke-width="1.6"/><line x1="420.68" y1="394.60" x2="420.68" y2="391.30" stroke-width="1.6"/><line x1="420.68" y1="20.50" x2="420.68" y2="23.80" stroke-width="1.6"/><line x1="115.00" y1="193.16" x2="118.30" y2="193.16" stroke-width="1.6"/><line x1="682.70" y1="193.16" x2="679.40" y2="193.16" stroke-width="1.6"/><line x1="442.52" y1="394.60" x2="442.52" y2="391.30" stroke-width="1.6"/><line x1="442.52" y1="20.50" x2="442.52" y2="23.80" stroke-width="1.6"/><line x1="115.00" y1="178.77" x2="118.30" y2="178.77" stroke-width="1.6"/><line x1="682.70" y1="178.77" x2="679.40" y2="178.77" stroke-width="1.6"/><line x1="464.35" y1="394.60" x2="464.35" y2="389.20" stroke-width="2.0"/><line x1="464.35" y1="20.50" x2="464.35" y2="25.90" stroke-width="2.0"/><line x1="115.00" y1="164.38" x2="120.40" y2="164.38" stroke-width="2.0"/><line x1="682.70" y1="164.38" x2="677.30" y2="164.38" stroke-width="2.0"/><line x1="486.19" y1="394.60" x2="486.19" y2="391.30" stroke-width="1.6"/><line x1="486.19" y1="20.50" x2="486.19" y2="23.80" stroke-width="1.6"/><line x1="115.00" y1="150.00" x2="118.30" y2="150.00" stroke-width="1.6"/><line x1="682.70" y1="150.00" x2="679.40" y2="150.00" stroke-width="1.6"/><line x1="508.02" y1="394.60" x2="508.02" y2="391.30" stroke-width="1.6"/><line x1="508.02" y1="20.50" x2="508.02" y2="23.80" stroke-width="1.6"/><line x1="115.00" y1="135.61" x2="118.30" y2="135.61" stroke-width="1.6"/><line x1="682.70" y1="135.61" x2="679.40" y2="135.61" stroke-width="1.6"/><line x1="529.86" y1="394.60" x2="529.86" y2="391.30" stroke-width="1.6"/><line x1="529.86" y1="20.50" x2="529.86" y2="23.80" stroke-width="1.6"/><line x1="115.00" y1="121.22" x2="118.30" y2="121.22" stroke-width="1.6"/><line x1="682.70" y1="121.22" x2="679.40" y2="121.22" stroke-width="1.6"/><line x1="551.69" y1="394.60" x2="551.69" y2="389.20" stroke-width="2.0"/><line x1="551.69" y1="20.50" x2="551.69" y2="25.90" stroke-width="2.0"/><line x1="115.00" y1="106.83" x2="120.40" y2="106.83" stroke-width="2.0"/><line x1="682.70" y1="106.83" x2="677.30" y2="106.83" stroke-width="2.0"/><line x1="573.53" y1="394.60" x2="573.53" y2="391.30" stroke-width="1.6"/><line x1="573.53" y1="20.50" x2="573.53" y2="23.80" stroke-width="1.6"/><line x1="115.00" y1="92.44" x2="118.30" y2="92.44" stroke-width="1.6"/><line x1="682.70" y1="92.44" x2="679.40" y2="92.44" stroke-width="1.6"/><line x1="595.36" y1="394.60" x2="595.36" y2="391.30" stroke-width="1.6"/><line x1="595.36" y1="20.50" x2="595.36" y2="23.80" stroke-width="1.6"/><line x1="115.00" y1="78.05" x2="118.30" y2="78.05" stroke-width="1.6"/><line x1="682.70" y1="78.05" x2="679.40" y2="78.05" stroke-width="1.6"/><line x1="617.20" y1="394.60" x2="617.20" y2="391.30" stroke-width="1.6"/><line x1="617.20" y1="20.50" x2="617.20" y2="23.80" stroke-width="1.6"/><line x1="115.00" y1="63.67" x2="118.30" y2="63.67" stroke-width="1.6"/><line x1="682.70" y1="63.67" x2="679.40" y2="63.67" stroke-width="1.6"/><line x1="639.03" y1="394.60" x2="639.03" y2="389.20" stroke-width="2.0"/><line x1="639.03" y1="20.50" x2="639.03" y2="25.90" stroke-width="2.0"/><line x1="115.00" y1="49.28" x2="120.40" y2="49.28" stroke-width="2.0"/><line x1="682.70" y1="49.28" x2="677.30" y2="49.28" stroke-width="2.0"/><line x1="660.87" y1="394.60" x2="660.87" y2="391.30" stroke-width="1.6"/><line x1="660.87" y1="20.50" x2="660.87" y2="23.80" stroke-width="1.6"/><line x1="115.00" y1="34.89" x2="118.30" y2="34.89" stroke-width="1.6"/><line x1="682.70" y1="34.89" x2="679.40" y2="34.89" stroke-width="1.6"/></g>
<g fill="#000">
<rect x="114.00" y="20.00" width="2.00" height="375.60"/>
<rect x="681.70" y="20.00" width="2.00" height="375.60"/>
<rect x="114.00" y="20.00" width="569.70" height="1.40"/>
<rect x="114.00" y="393.65" width="569.70" height="1.95"/>
</g>
<g id="txt">
<text transform="translate(114.70,417) scale(1,1.14)" font-size="24.4" text-anchor="middle">0</text>
<text transform="translate(111.3,401.50) scale(1,1.14)" font-size="24.4" text-anchor="end">0</text>
<text transform="translate(202.04,417) scale(1,1.14)" font-size="24.4" text-anchor="middle">200</text>
<text transform="translate(111.3,343.95) scale(1,1.14)" font-size="24.4" text-anchor="end">200</text>
<text transform="translate(289.38,417) scale(1,1.14)" font-size="24.4" text-anchor="middle">400</text>
<text transform="translate(111.3,286.39) scale(1,1.14)" font-size="24.4" text-anchor="end">400</text>
<text transform="translate(376.72,417) scale(1,1.14)" font-size="24.4" text-anchor="middle">600</text>
<text transform="translate(111.3,228.84) scale(1,1.14)" font-size="24.4" text-anchor="end">600</text>
<text transform="translate(464.05,417) scale(1,1.14)" font-size="24.4" text-anchor="middle">800</text>
<text transform="translate(111.3,171.28) scale(1,1.14)" font-size="24.4" text-anchor="end">800</text>
<text transform="translate(551.39,417) scale(1,1.14)" font-size="24.4" text-anchor="middle">1000</text>
<text transform="translate(111.3,113.73) scale(1,1.14)" font-size="24.4" text-anchor="end">1000</text>
<text transform="translate(638.73,417) scale(1,1.14)" font-size="24.4" text-anchor="middle">1200</text>
<text transform="translate(111.3,56.18) scale(1,1.14)" font-size="24.4" text-anchor="end">1200</text>
<text x="398.8" y="453.6" font-size="30" text-anchor="middle"><tspan font-style="italic">L</tspan> (km)</text>
<path d="M30.04,221.18 L30.04,230.19 Q30.15,232.62 33.17,235.15 L34.04,234.40 Q32.09,232.35 32.42,229.65 L32.63,227.49 L32.63,222.20 Z" fill="#000"/><path d="M32.42,226.52 L41.54,229.06 L41.16,230.35 L32.42,228.14 Z" fill="#000"/><circle cx="42.13" cy="228.68" r="1.75" fill="#000"/>
<g transform="translate(44,235.6) rotate(-90)"><text transform="translate(14.0,4.5) scale(1,1.065)" font-size="22.4">QSL</text></g>
<rect x="470.00" y="196.20" width="198.40" height="180.00" fill="none" stroke="#000" stroke-width="1.6"/>
<g fill="none">
<line x1="481.5" y1="214.10" x2="519" y2="214.10" stroke="#cc00cc" stroke-width="3" stroke-dasharray="4.6 3.6"/>
<line x1="481.5" y1="242.24" x2="518.2" y2="242.24" stroke="#cc2e30" stroke-width="3" stroke-dasharray="1.3 3.8 4.7 3.5"/>
<line x1="481.5" y1="270.38" x2="516.6" y2="270.38" stroke="#1e48b8" stroke-width="3" stroke-dasharray="14.4 6.3"/>
<line x1="481.5" y1="298.52" x2="520.3" y2="298.52" stroke="#1f8250" stroke-width="3"/>
<line x1="481" y1="326.66" x2="521" y2="326.66" stroke="#e69f00" stroke-width="1.4"/>
<circle cx="501" cy="326.66" r="6.0" fill="#e69f00" stroke="#b97f00" stroke-width="0.6"/>
<line x1="482" y1="354.80" x2="519.5" y2="354.80" stroke="#0b8a8a" stroke-width="4" stroke-dasharray="1.4 3.7"/>
</g>
<text x="529.0" y="219.40" font-size="15.25">NO, <tspan font-style="italic">δ</tspan><tspan font-size="10.5" dy="3">CP</tspan><tspan dy="-3">=177</tspan><tspan dx="0"> ° </tspan>[<tspan font-style="italic" class="nu">ν</tspan><tspan font-size="10.5" dy="3" font-style="italic" class="mu">μ</tspan><tspan dy="-3">]</tspan></text>
<text x="529.0" y="247.54" font-size="15.25">IO, <tspan font-style="italic">δ</tspan><tspan font-size="10.5" dy="3">CP</tspan><tspan dy="-3">=285</tspan><tspan dx="0"> ° </tspan>[<tspan font-style="italic" class="nu">ν</tspan><tspan font-size="10.5" dy="3" font-style="italic" class="mu">μ</tspan><tspan dy="-3">]</tspan></text>
<text x="529.0" y="275.68" font-size="15.25">NO, <tspan font-style="italic">δ</tspan><tspan font-size="10.5" dy="3">CP</tspan><tspan dy="-3">=−177</tspan><tspan dx="1.2"> ° </tspan>[<tspan font-style="italic" class="nu">ν</tspan><tspan font-size="10.5" dy="3" font-style="italic" class="mu">μ</tspan><tspan dy="-3">]</tspan></text>
<text x="529.0" y="303.82" font-size="15.25">IO, <tspan font-style="italic">δ</tspan><tspan font-size="10.5" dy="3">CP</tspan><tspan dy="-3">=−285</tspan><tspan dx="1.2"> ° </tspan>[<tspan font-style="italic" class="nu">ν</tspan><tspan font-size="10.5" dy="3" font-style="italic" class="mu">μ</tspan><tspan dy="-3">]</tspan></text>
<text x="529.0" y="331.96" font-size="15.25">TFNOM [<tspan font-style="italic" class="nu">ν</tspan><tspan font-size="10.5" dy="3" font-style="italic" class="mu">μ</tspan><tspan dy="-3">]</tspan></text>
<text x="529.0" y="360.10" font-size="15.25">TFNOM [<tspan font-style="italic" class="nu">ν</tspan><tspan font-size="10.5" dy="3" font-style="italic" class="mu">μ</tspan><tspan dy="-3">]</tspan></text>
<line x1="638.70" y1="267.18" x2="652.50" y2="267.18" stroke="#555" stroke-width="0.8"/>
<line x1="632.76" y1="295.32" x2="646.56" y2="295.32" stroke="#555" stroke-width="0.8"/>
<line x1="591.18" y1="351.60" x2="604.98" y2="351.60" stroke="#555" stroke-width="0.8"/>
</g>
</svg></body></html>
